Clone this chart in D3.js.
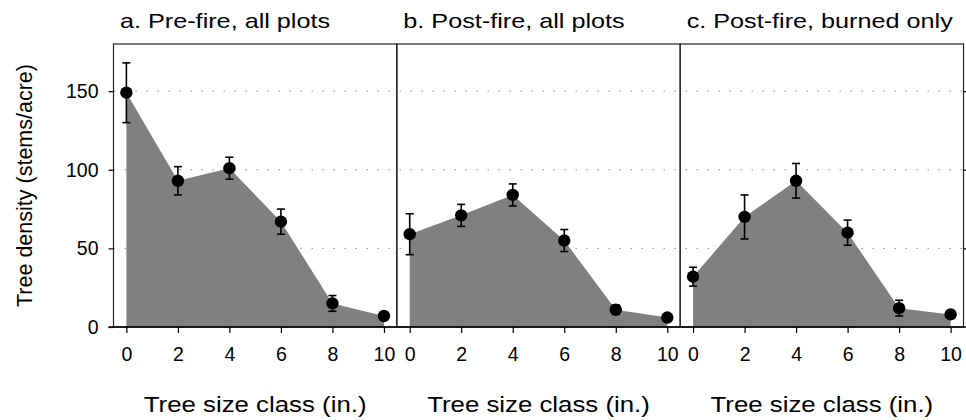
<!DOCTYPE html>
<html>
<head>
<meta charset="utf-8">
<script src="https://cdn.jsdelivr.net/npm/d3@7"></script>
<style>
  html, body { margin: 0; padding: 0; background: #fff; }
  svg { display: block; }
  text { font-family: Arial, "Liberation Sans", sans-serif; fill: #000; }
</style>
</head>
<body>
<svg id="chart" width="966" height="420"></svg>
<script>
// ---- Data ----
const sizeClasses = [0, 2, 4, 6, 8, 10];
const panelTitles = ["a. Pre-fire, all plots", "b. Post-fire, all plots", "c. Post-fire, burned only"];
const preAllMean   = [149, 93, 101, 67, 15, 7];
const preAllErr    = [19, 9, 7, 8, 5, 1];
const postAllMean  = [59, 71, 84, 55, 11, 6];
const postAllErr   = [13, 7, 7, 7, 3, 1];
const postBurnMean = [32, 70, 93, 60, 12, 8];
const postBurnErr  = [6, 14, 11, 8, 5, 1];
const yTicks = [0, 50, 100, 150];
const xTicks = [0, 2, 4, 6, 8, 10];
const yLabel = "Tree density (stems/acre)";
const xLabel = "Tree size class (in.)";

const panels = [
  { title: panelTitles[0], mean: preAllMean, err: preAllErr },
  { title: panelTitles[1], mean: postAllMean, err: postAllErr },
  { title: panelTitles[2], mean: postBurnMean, err: postBurnErr }
];

// ---- Layout ----
const svg = d3.select("#chart");
const mLeft = 113.5, mRight = 963.5, mTop = 44, mBottom = 327;
const pw = (mRight - mLeft) / 3;

const y = d3.scaleLinear().domain([0, 180]).range([mBottom, mTop]);

function stretch(sel, f) {
  sel.each(function () {
    const w = this.getComputedTextLength();
    d3.select(this).attr("textLength", w * f).attr("lengthAdjust", "spacingAndGlyphs");
  });
}

// gridlines across all panels (behind)
svg.append("g").selectAll("line").data(yTicks.filter(d => d > 0)).join("line")
  .attr("x1", mLeft).attr("x2", mRight)
  .attr("y1", d => y(d)).attr("y2", d => y(d))
  .attr("stroke", "#8a8a8a").attr("stroke-width", 1)
  .attr("stroke-dasharray", "1.5,9.5");

panels.forEach((p, i) => {
  const x0 = mLeft + i * pw;
  const x = d3.scaleLinear().domain([-0.5, 10.5]).range([x0, x0 + pw]);
  const g = svg.append("g");
  const data = sizeClasses.map((c, k) => ({ c, m: p.mean[k], e: p.err[k] }));

  const area = d3.area().x(d => x(d.c)).y0(y(0)).y1(d => y(d.m));
  g.append("path").datum(data).attr("d", area).attr("fill", "#808080");

  // error bars
  const eb = g.append("g").attr("stroke", "#000").attr("stroke-width", 1.6);
  data.forEach(d => {
    const cx = x(d.c);
    eb.append("line").attr("x1", cx).attr("x2", cx).attr("y1", y(d.m + d.e)).attr("y2", y(d.m - d.e));
    eb.append("line").attr("x1", cx - 4).attr("x2", cx + 4).attr("y1", y(d.m + d.e)).attr("y2", y(d.m + d.e));
    eb.append("line").attr("x1", cx - 4).attr("x2", cx + 4).attr("y1", y(d.m - d.e)).attr("y2", y(d.m - d.e));
  });

  g.selectAll("circle").data(data).join("circle")
    .attr("cx", d => x(d.c)).attr("cy", d => y(d.m)).attr("r", 6.2).attr("fill", "#000");

  // panel box
  g.append("rect").attr("x", x0).attr("y", mTop).attr("width", pw).attr("height", mBottom - mTop)
    .attr("fill", "none").attr("stroke", "#222").attr("stroke-width", 1.2);

  // x axis
  const xa = d3.axisBottom(x).tickValues(xTicks).tickSize(6).tickPadding(14).tickFormat(d3.format("d"));
  const ax = g.append("g").attr("transform", `translate(0,${mBottom})`).call(xa);
  ax.select(".domain").remove();
  ax.selectAll("line").attr("stroke", "#000").attr("stroke-width", 1.2);
  ax.selectAll("text").attr("font-size", 19.5).style("font-family", "Arial, 'Liberation Sans', sans-serif");

  // title
  g.append("text").attr("x", x0 + 6.5).attr("y", 28).attr("font-size", 21).text(p.title)
    .call(stretch, 1.2);

  // x label
  g.append("text").attr("x", x0 + pw / 2).attr("y", 412).attr("text-anchor", "middle")
    .attr("font-size", 21.5).text(xLabel)
    .call(stretch, 1.2);

  if (i === 0) {
    const ya = d3.axisLeft(y).tickValues(yTicks).tickSize(5).tickPadding(10);
    const ay = g.append("g").attr("transform", `translate(${x0},0)`).call(ya);
    ay.select(".domain").remove();
    ay.selectAll("line").attr("stroke", "#000").attr("stroke-width", 1.2);
    ay.selectAll("text").attr("font-size", 19.5).style("font-family", "Arial, 'Liberation Sans', sans-serif");
  }
  if (i === 2) {
    const ya = d3.axisRight(y).tickValues(yTicks.filter(d => d > 0)).tickSize(4).tickFormat("");
    const ay = g.append("g").attr("transform", `translate(${x0 + pw},0)`).call(ya);
    ay.select(".domain").remove();
    ay.selectAll("line").attr("stroke", "#000").attr("stroke-width", 1.2);
  }
});

// bottom baseline
svg.append("line").attr("x1", mLeft - 5).attr("x2", 966).attr("y1", mBottom).attr("y2", mBottom)
  .attr("stroke", "#000").attr("stroke-width", 1.4);

// y label
svg.append("text").attr("transform", `translate(32,${(mTop + mBottom) / 2}) rotate(-90)`)
  .attr("text-anchor", "middle").attr("font-size", 21.5).text(yLabel);
</script>
</body>
</html>
